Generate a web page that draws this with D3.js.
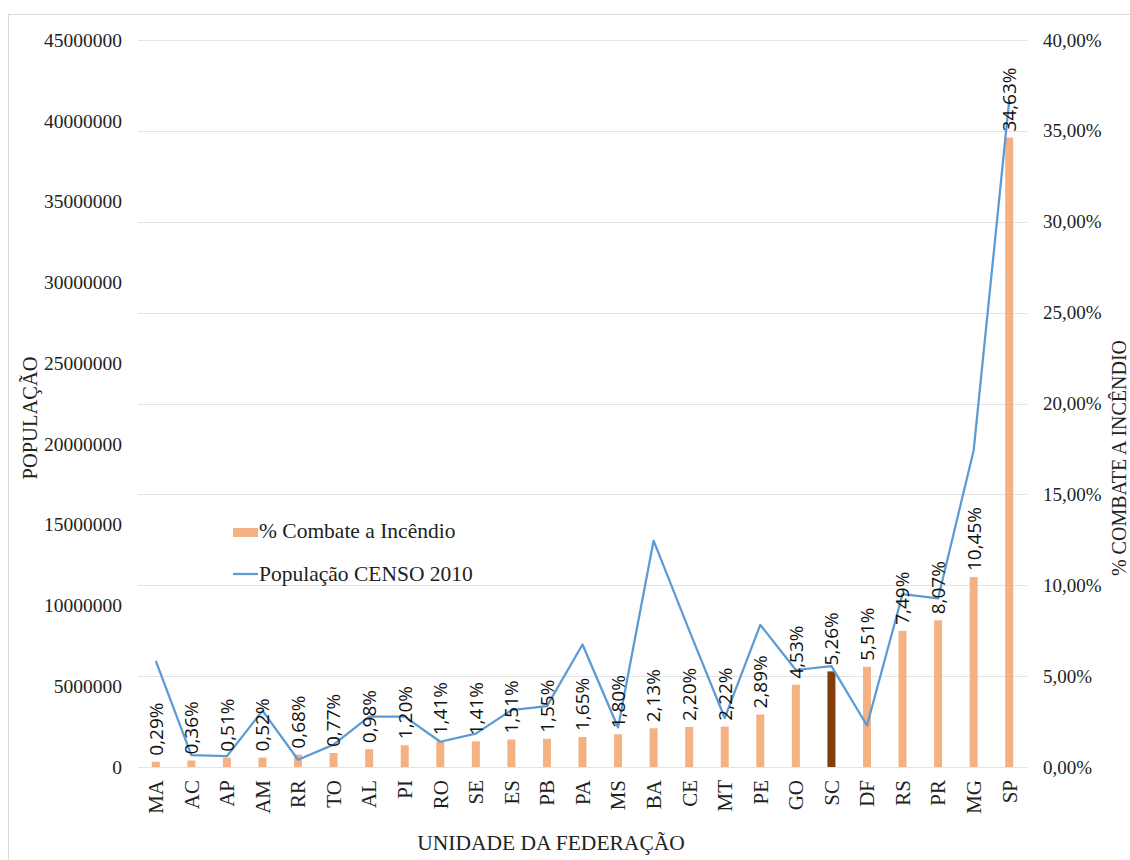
<!DOCTYPE html>
<html>
<head>
<meta charset="utf-8">
<script src="https://cdn.jsdelivr.net/npm/d3@7"></script>
<style>
  html, body { margin: 0; padding: 0; background: #fff; }
  svg { display: block; }
  .serif { font-family: "Liberation Serif", Tinos, "DejaVu Serif", "Noto Serif", serif; }
  .sans { font-family: "Open Sans", "Liberation Sans", sans-serif; }
</style>
</head>
<body>
<svg id="chart" width="1130" height="860"></svg>
<script>
// Unidades da Federação, ordered by % de combate a incêndio
const ufs = ["MA","AC","AP","AM","RR","TO","AL","PI","RO","SE","ES","PB","PA","MS","BA","CE","MT","PE","GO","SC","DF","RS","PR","MG","SP"];
// % Combate a Incêndio (right axis)
const combate = [0.0029,0.0036,0.0051,0.0052,0.0068,0.0077,0.0098,0.0120,0.0141,0.0141,0.0151,0.0155,0.0165,0.0180,0.0213,0.0220,0.0222,0.0289,0.0453,0.0526,0.0551,0.0749,0.0807,0.1045,0.3463];
// População CENSO 2010 (left axis)
const populacao = [6574789,733559,669526,3483985,450479,1383445,3120494,3118360,1562409,2068017,3514952,3766528,7581051,2449024,14016906,8452381,3035122,8796448,6003788,6248436,2570160,10693929,10444526,19597330,41262199];
const popTicks = [0,5000000,10000000,15000000,20000000,25000000,30000000,35000000,40000000,45000000];
const pctTicks = [0,0.05,0.10,0.15,0.20,0.25,0.30,0.35,0.40];
const highlight = "SC";

const ptBR = d3.formatLocale({decimal: ",", thousands: ".", grouping: [3], currency: ["R$", ""]});
const fmtAxis = ptBR.format(".2%");
const fmtLabel = ptBR.format(".2%");

const svg = d3.select("#chart");
const plotL = 138, plotR = 1027, plotT = 40, plotB = 767;

const x = d3.scaleBand().domain(ufs).range([plotL, plotR]).paddingInner(0.775).paddingOuter(0.3875);
const yPct = d3.scaleLinear().domain([0, 0.40]).range([plotB, plotT]);
const yPop = d3.scaleLinear().domain([0, 45000000]).range([plotB, plotT]);

// chart frame
svg.append("rect").attr("x", 8.5).attr("y", 14.5).attr("width", 1140).attr("height", 860)
  .attr("fill", "none").attr("stroke", "#d9d9d9").attr("stroke-width", 1);

// horizontal gridlines follow the percentage axis
svg.append("g").selectAll("line").data(pctTicks).join("line")
  .attr("x1", plotL).attr("x2", plotR)
  .attr("y1", d => Math.round(yPct(d)) + 0.5).attr("y2", d => Math.round(yPct(d)) + 0.5)
  .attr("stroke", "#e3e3e3").attr("stroke-width", 1);

// left axis (population)
const axL = svg.append("g").attr("transform", `translate(${plotL - 16},0)`)
  .call(d3.axisLeft(yPop).tickValues(popTicks).tickFormat(d3.format("d")).tickSize(0).tickPadding(0));
axL.select(".domain").remove();
axL.attr("font-family", null).attr("font-size", null);
axL.selectAll("text").attr("class", "serif").attr("font-size", 19.5).attr("fill", "#222");

// right axis (percentage)
const axR = svg.append("g").attr("transform", `translate(${plotR + 16},0)`)
  .call(d3.axisRight(yPct).tickValues(pctTicks).tickFormat(fmtAxis).tickSize(0).tickPadding(0));
axR.select(".domain").remove();
axR.attr("font-family", null).attr("font-size", null);
axR.selectAll("text").attr("class", "serif").attr("font-size", 19).attr("fill", "#222");

// bottom axis: rotated category labels
const axB = svg.append("g").attr("transform", `translate(0,${plotB + 13})`)
  .call(d3.axisBottom(x).tickSize(0).tickPadding(0));
axB.select(".domain").remove();
axB.attr("font-family", null).attr("font-size", null);
axB.selectAll("text")
  .attr("class", "serif").attr("font-size", 21).attr("fill", "#222")
  .attr("transform", "rotate(-90)")
  .attr("text-anchor", "end").attr("dy", "0.35em").attr("x", 0).attr("y", 0);

// bars: % combate a incêndio
svg.append("g").selectAll("rect").data(ufs).join("rect")
  .attr("x", d => x(d))
  .attr("width", x.bandwidth())
  .attr("y", (d, i) => yPct(combate[i]))
  .attr("height", (d, i) => plotB - yPct(combate[i]))
  .attr("fill", d => d === highlight ? "#843c0c" : "#f4b183");

// population line
const line = d3.line()
  .x((d, i) => x(ufs[i]) + x.bandwidth() / 2)
  .y(d => yPop(d));
svg.append("path").datum(populacao)
  .attr("d", line).attr("fill", "none")
  .attr("stroke", "#5b9bd5").attr("stroke-width", 2.25).attr("stroke-linejoin", "round");

// bar value labels
svg.append("g").selectAll("text").data(ufs).join("text")
  .attr("class", "sans")
  .attr("transform", (d, i) => `translate(${x(d) + x.bandwidth() / 2},${yPct(combate[i]) - 6}) rotate(-90)`)
  .attr("text-anchor", "start").attr("dy", "0.36em")
  .attr("font-size", 19).attr("fill", "#111")
  .text((d, i) => fmtLabel(combate[i]));

// axis titles
svg.append("text").attr("class", "serif").attr("transform", "translate(37,418) rotate(-90)")
  .attr("text-anchor", "middle").attr("font-size", 20.5).attr("fill", "#222")
  .text("POPULAÇÃO");
svg.append("text").attr("class", "serif").attr("transform", "translate(1126,458) rotate(-90)")
  .attr("text-anchor", "middle").attr("font-size", 20).attr("fill", "#222")
  .text("% COMBATE A INCÊNDIO");
svg.append("text").attr("class", "serif").attr("x", 551).attr("y", 850)
  .attr("text-anchor", "middle").attr("font-size", 21.5).attr("fill", "#222")
  .text("UNIDADE DA FEDERAÇÃO");

// legend
const lg = svg.append("g");
lg.append("rect").attr("x", 233).attr("y", 528).attr("width", 25).attr("height", 9).attr("fill", "#f4b183");
lg.append("text").attr("class", "serif").attr("x", 259).attr("y", 538).attr("font-size", 21.5).attr("fill", "#222")
  .text("% Combate a Incêndio");
lg.append("line").attr("x1", 233).attr("x2", 258).attr("y1", 574).attr("y2", 574)
  .attr("stroke", "#5b9bd5").attr("stroke-width", 2.25);
lg.append("text").attr("class", "serif").attr("x", 259).attr("y", 581).attr("font-size", 21.5).attr("fill", "#222")
  .text("População CENSO 2010");
</script>
</body>
</html>
